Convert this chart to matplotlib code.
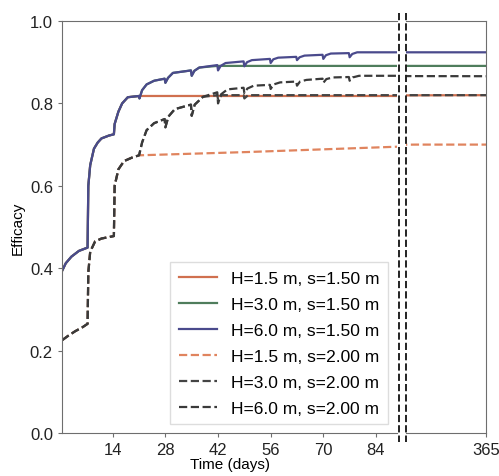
import numpy as np
import matplotlib
matplotlib.use("Agg")
import matplotlib.pyplot as plt
from matplotlib.lines import Line2D

plt.rcParams.update({
    "font.family": ["Liberation Sans", "DejaVu Sans"],
    "font.size": 12,
    "axes.edgecolor": "#6e6e6e",
    "xtick.color": "#6e6e6e",
    "ytick.color": "#6e6e6e",
    "xtick.labelcolor": "#222222",
    "ytick.labelcolor": "#222222",
})

# ---- data (days, efficacy) ----
# shared rise for s=1.50 m until day 21
d_s15 = [0.5, 1.5, 3, 5, 7.3, 7.5, 8, 9, 10, 11, 13, 14.3, 14.5, 15.5, 16.5, 18, 21]
e_s15 = [0.393, 0.412, 0.428, 0.442, 0.45, 0.60, 0.65, 0.69, 0.705, 0.715, 0.722, 0.725,
         0.75, 0.78, 0.80, 0.815, 0.818]

# weekly scallops after day 21 (H=6.0 m, s=1.50 m)
d_sc15 = [21.1, 21.8, 23, 25, 27.8, 28, 28.7, 30, 34.8, 35, 35.7, 37, 41.8, 42, 42.7, 44,
          48.8, 49, 49.7, 51, 55.8, 56, 56.7, 58, 62.8, 63, 63.7, 65, 69.8, 70, 70.7, 72,
          76.8, 77, 77.7, 79, 90, 365]
e_sc15 = [0.812, 0.832, 0.846, 0.855, 0.86, 0.85, 0.862, 0.874, 0.88, 0.867, 0.879, 0.887,
          0.893, 0.88, 0.891, 0.898, 0.902, 0.89, 0.9, 0.905, 0.908, 0.898, 0.907, 0.911,
          0.913, 0.905, 0.912, 0.916, 0.918, 0.908, 0.917, 0.921, 0.922, 0.912, 0.92, 0.924,
          0.924, 0.924]

days_h15_s15 = d_s15 + [90, 365]
eff_h15_s15 = e_s15 + [0.818, 0.82]

days_h60_s15 = d_s15 + d_sc15
eff_h60_s15 = e_s15 + e_sc15

days_h30_s15 = d_s15 + d_sc15[:12] + [41.8, 90, 365]
eff_h30_s15 = e_s15 + e_sc15[:12] + [0.891, 0.891, 0.891]

# shared rise for s=2.00 m until day 21
d_s20 = [0.5, 2, 4, 6, 7.3, 7.5, 8, 9.3, 11, 14.3, 14.5, 15.5, 17, 19, 21]
e_s20 = [0.225, 0.235, 0.247, 0.257, 0.265, 0.39, 0.44, 0.465, 0.472, 0.478, 0.60, 0.64,
         0.66, 0.668, 0.674]

# weekly scallops after day 21 (H=6.0 m, s=2.00 m)
d_sc20 = [21.8, 23, 25, 27.8, 28, 28.8, 30.5, 34.8, 35, 35.8, 38, 41.8, 42, 42.8, 44.5,
          48.8, 49, 49.8, 51.5, 55.8, 56, 56.8, 58.5, 62.8, 63, 63.8, 65.5, 69.8, 70, 70.8,
          72.5, 76.8, 77, 77.8, 79.5, 90, 365]
e_sc20 = [0.705, 0.735, 0.752, 0.762, 0.742, 0.768, 0.786, 0.797, 0.77, 0.797, 0.816, 0.827,
          0.80, 0.822, 0.834, 0.838, 0.825, 0.836, 0.843, 0.845, 0.835, 0.846, 0.851, 0.853,
          0.843, 0.853, 0.857, 0.86, 0.85, 0.859, 0.863, 0.864, 0.855, 0.863, 0.867, 0.867,
          0.866]

days_h15_s20 = d_s20 + [50, 90, 300, 365]
eff_h15_s20 = e_s20 + [0.682, 0.695, 0.70, 0.70]

days_h30_s20 = d_s20 + d_sc20[:11] + [41.8, 42, 43, 48.8, 49, 50, 90, 365]
eff_h30_s20 = e_s20 + e_sc20[:11] + [0.82, 0.81, 0.82, 0.82, 0.812, 0.82, 0.82, 0.82]

days_h60_s20 = d_s20 + d_sc20
eff_h60_s20 = e_s20 + e_sc20

series = [
    ("H=1.5 m, s=1.50 m", days_h15_s15, eff_h15_s15, "#d0704f", "-"),
    ("H=3.0 m, s=1.50 m", days_h30_s15, eff_h30_s15, "#4f7d5c", "-"),
    ("H=6.0 m, s=1.50 m", days_h60_s15, eff_h60_s15, "#4a4a8c", "-"),
    ("H=1.5 m, s=2.00 m", days_h15_s20, eff_h15_s20, "#e0845e", "--"),
    ("H=3.0 m, s=2.00 m", days_h30_s20, eff_h30_s20, "#444444", "--"),
    ("H=6.0 m, s=2.00 m", days_h60_s20, eff_h60_s20, "#3a3a3a", "--"),
]

fig = plt.figure(figsize=(4.99, 4.77), dpi=100)
ax1 = fig.add_axes([62 / 499, 43 / 477, 335 / 499, 412 / 477])
ax2 = fig.add_axes([406 / 499, 43 / 477, 80 / 499, 412 / 477])

for label, d, e, c, ls in series:
    ax1.plot(d, e, color=c, ls=ls, lw=1.6, label=label)
    ax2.plot(d, e, color=c, ls=ls, lw=1.6)

ax1.set_xlim(0.5, 89.6)
ax2.set_xlim(290, 365)
for ax in (ax1, ax2):
    ax.set_ylim(0, 1.0)
    ax.tick_params(length=3, width=0.8)

ax1.set_xticks([14, 28, 42, 56, 70, 84])
ax1.set_yticks([0.0, 0.2, 0.4, 0.6, 0.8, 1.0])
ax1.set_yticklabels(["0.0", "0.2", "0.4", "0.6", "0.8", "1.0"])
ax2.set_xticks([365])
ax2.set_yticks([])
ax1.spines["right"].set_visible(False)
ax2.spines["left"].set_visible(False)

ax1.set_xlabel("Time (days)", fontsize=11, labelpad=0)
ax1.set_ylabel("Efficacy", fontsize=11, labelpad=4)

ax1.legend(loc="lower right", fontsize=12.5, handlelength=2.2, labelspacing=0.62,
           framealpha=1, edgecolor="#dddddd", fancybox=False, borderpad=0.5)

# broken-axis markers
for xpx in (398.5, 405.5):
    fig.add_artist(Line2D([xpx / 499, xpx / 499], [1 - 14 / 477, 1 - 443 / 477],
                          transform=fig.transFigure, color="#222222", ls="--", lw=1.4))

fig.savefig("out.png", dpi=100)
